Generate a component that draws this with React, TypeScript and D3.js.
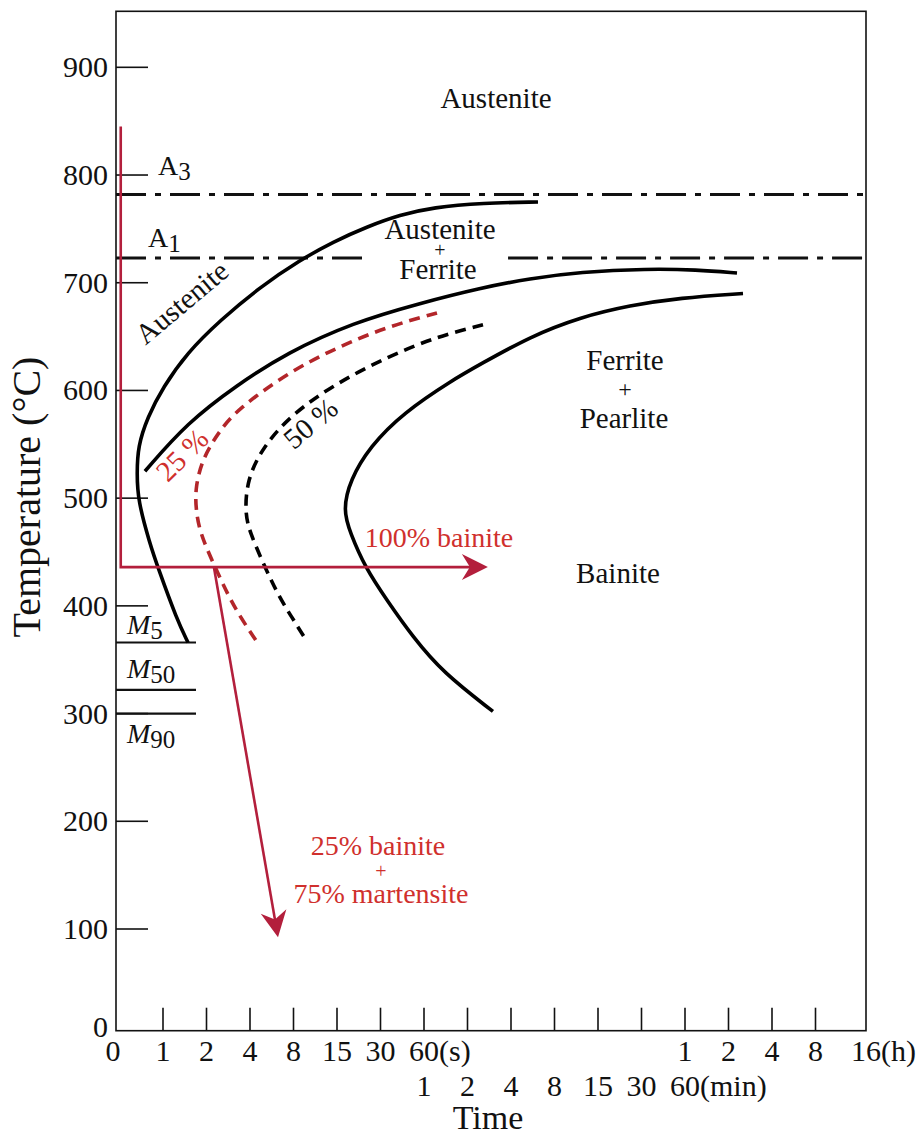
import { useEffect, useRef } from "react";
import * as d3 from "d3";

// temperature ticks (°C)
const tempTicks = [100, 200, 300, 400, 500, 600, 700, 800, 900];

// time ticks in seconds, drawn evenly spaced (schematic log axis)
const timeTicks = [1, 2, 4, 8, 15, 30, 60, 120, 240, 480, 900, 1800, 3600, 7200, 14400, 28800, 57600];
const timeLabelsTop = ["1", "2", "4", "8", "15", "30", "60(s)", "", "", "", "", "", "1", "2", "4", "8", "16(h)"];
const timeLabelsBottom = ["", "", "", "", "", "", "1", "2", "4", "8", "15", "30", "60(min)", "", "", "", ""];

// critical temperatures (°C)
const A3 = 782;
const A1 = 723;
const A1Gap = [25.4, 229]; // seconds, where the A1 line is broken by the label
const msLines = [
  { sub: "5", temp: 366 },
  { sub: "50", temp: 322 },
  { sub: "90", temp: 300 },
];

// curves as [time (s), temperature (°C)]
const ferriteStart = [
  [1.49, 366], [1.25, 387], [0.92, 436], [0.81, 458], [0.67, 498], [0.66, 523], [0.67, 548],
  [0.78, 575], [1, 603], [1.47, 635], [2.48, 665], [4.69, 696], [8.79, 721], [14.2, 738],
  [24.2, 752], [40.9, 763], [69.2, 770], [153.6, 774], [369, 775],
];
const transformStart = [
  [0.75, 525], [1.47, 570], [3.25, 605], [7.21, 635], [19.4, 663], [56.3, 681], [146, 695],
  [325, 704], [694, 710], [1964, 713], [4360, 712], [8245, 709],
];
const transformEnd = [
  [9072, 690], [3324, 686], [1499, 679], [694, 668], [325, 650], [146, 624], [95.3, 610],
  [42.9, 579], [25.4, 548], [18.5, 517], [16.5, 489], [18.5, 468], [23.4, 436], [33.3, 405],
  [50.3, 371], [81.2, 338], [180, 302],
];
const pct25 = [
  [73.8, 672], [33.3, 659], [15, 640], [7.21, 616], [3.25, 582], [2.48, 563], [1.89, 538],
  [1.67, 510], [1.69, 489], [1.8, 468], [2.22, 440], [2.77, 412], [3.41, 390], [4.4, 368],
];
const pct50 = [
  [153.6, 661], [73.8, 650], [33.3, 631], [15, 607], [7.94, 579], [4.92, 548], [3.81, 517],
  [3.69, 486], [4.0, 468], [4.92, 440], [6.15, 412], [7.57, 392], [9.44, 370],
];

// cooling paths
const quenchHold = [[0.51, 845], [0.51, 436], [166, 436]];
const quenchDrop = [[2.25, 436], [6.25, 92]];

const FONT = "'Liberation Serif', 'Times New Roman', serif";
const RED_LINE = "#b31f3c";
const RED_TEXT = "#d0302d";
const RED_DASH = "#b3262a";

const App = () => {
  const svgRef = useRef(null);

  useEffect(() => {
    document.body.style.margin = "0";
    const svg = d3.select(svgRef.current).attr("width", 918).attr("height", 1139);
    svg.selectAll("*").remove();
    svg.style("font-family", FONT);

    const left = 116;

    // evenly spaced ticks -> piecewise log scale
    const idx = d3.scaleLinear().domain([0, 15, 16]).range([163, 815.5, 866]);
    const x = d3.scaleLog().domain(timeTicks).range(timeTicks.map((_, i) => idx(i)));
    const y = d3.scaleLinear().domain([0, 100, 952]).range([1030.7, 929, 11.3]);

    const right = x(57600);
    const top = y(952);
    const bottom = y(0);

    const g = svg.append("g");

    // frame
    g.append("rect")
      .attr("x", left).attr("y", top)
      .attr("width", right - left).attr("height", bottom - top)
      .attr("fill", "none").attr("stroke", "#111").attr("stroke-width", 1.6);

    // y ticks + labels
    g.selectAll(".ytick").data(tempTicks).enter().append("line")
      .attr("x1", left).attr("x2", left + 32)
      .attr("y1", (d) => y(d)).attr("y2", (d) => y(d))
      .attr("stroke", "#111").attr("stroke-width", 1.6);
    g.selectAll(".ylab").data(tempTicks).enter().append("text")
      .attr("x", 108).attr("y", (d) => y(d) + 10)
      .attr("text-anchor", "end").attr("font-size", 30).attr("fill", "#111")
      .text((d) => d);
    g.append("text").attr("x", 108).attr("y", 1037)
      .attr("text-anchor", "end").attr("font-size", 30).attr("fill", "#111").text("0");

    // x ticks
    g.selectAll(".xtick").data(timeTicks.slice(0, -1)).enter().append("line")
      .attr("x1", (d) => x(d)).attr("x2", (d) => x(d))
      .attr("y1", bottom).attr("y2", bottom - 23)
      .attr("stroke", "#111").attr("stroke-width", 1.6);

    // number centred on the tick, unit hanging to the right
    const tickLabel = (label, px, py) => {
      if (!label) return;
      const m = label.match(/^(\d+)(.*)$/);
      const t = g.append("text").attr("x", px).attr("y", py)
        .attr("text-anchor", "middle").attr("font-size", 30).attr("fill", "#111").text(m[1]);
      if (m[2]) {
        const w = t.node().getComputedTextLength();
        g.append("text").attr("x", px + w / 2).attr("y", py)
          .attr("font-size", 30).attr("fill", "#111").text(m[2]);
      }
    };
    tickLabel("0", left - 3, 1060.7);
    timeTicks.forEach((d, i) => {
      tickLabel(timeLabelsTop[i], x(d), 1060.7);
      tickLabel(timeLabelsBottom[i], x(d), 1096);
    });

    // axis titles
    g.append("text").attr("x", 488).attr("y", 1129)
      .attr("text-anchor", "middle").attr("font-size", 34).attr("fill", "#111").text("Time");
    g.append("text")
      .attr("transform", `translate(40,497) rotate(-90)`)
      .attr("text-anchor", "middle").attr("font-size", 40).attr("fill", "#111")
      .text("Temperature (°C)");

    // A3 / A1 dash-dot lines
    const dashDot = "30,9,6,9";
    g.append("line").attr("x1", left).attr("x2", right).attr("y1", y(A3)).attr("y2", y(A3))
      .attr("stroke", "#111").attr("stroke-width", 3).attr("stroke-dasharray", dashDot);
    g.append("line").attr("x1", left).attr("x2", x(A1Gap[0])).attr("y1", y(A1)).attr("y2", y(A1))
      .attr("stroke", "#111").attr("stroke-width", 3).attr("stroke-dasharray", dashDot);
    g.append("line").attr("x1", x(A1Gap[1])).attr("x2", right).attr("y1", y(A1)).attr("y2", y(A1))
      .attr("stroke", "#111").attr("stroke-width", 3).attr("stroke-dasharray", dashDot);

    const sub = (base, s, px, py, italic) => {
      const t = g.append("text").attr("x", px).attr("y", py).attr("font-size", 28).attr("fill", "#111");
      t.append("tspan").attr("font-style", italic ? "italic" : "normal").text(base);
      t.append("tspan").attr("font-size", 25).attr("dy", 5).text(s);
    };
    sub("A", "3", 158, 175, false);
    sub("A", "1", 148, 247, false);

    // martensite lines
    msLines.forEach((m) => {
      g.append("line").attr("x1", left).attr("x2", 196).attr("y1", y(m.temp)).attr("y2", y(m.temp))
        .attr("stroke", "#111").attr("stroke-width", 2.2);
    });
    sub("M", "5", 127, 634, true);
    sub("M", "50", 127, 678, true);
    sub("M", "90", 127, 743, true);

    // transformation curves
    const line = d3.line()
      .x((d) => x(d[0]))
      .y((d) => y(d[1]))
      .curve(d3.curveBasis);

    [ferriteStart, transformStart, transformEnd].forEach((c) => {
      g.append("path").attr("d", line(c)).attr("fill", "none")
        .attr("stroke", "#000").attr("stroke-width", 3.6);
    });
    g.append("path").attr("d", line(pct25)).attr("fill", "none")
      .attr("stroke", RED_DASH).attr("stroke-width", 3.6).attr("stroke-dasharray", "11,7");
    g.append("path").attr("d", line(pct50)).attr("fill", "none")
      .attr("stroke", "#000").attr("stroke-width", 3.6).attr("stroke-dasharray", "11,7");

    // cooling paths
    const straight = d3.line().x((d) => x(d[0])).y((d) => y(d[1]));
    const arrowHead = (from, tip) => {
      const ang = Math.atan2(tip[1] - from[1], tip[0] - from[0]);
      const pts = [[0, 0], [-26, -13], [-18, 0], [-26, 13]].map(([a, b]) => [
        tip[0] + a * Math.cos(ang) - b * Math.sin(ang),
        tip[1] + a * Math.sin(ang) + b * Math.cos(ang),
      ]);
      g.append("path").attr("d", "M" + pts.join("L") + "Z").attr("fill", RED_LINE);
    };
    const hold = quenchHold.map((d) => [x(d[0]), y(d[1])]);
    const drop = quenchDrop.map((d) => [x(d[0]), y(d[1])]);
    g.append("path").attr("d", straight(quenchHold.slice(0, 2)) + "L" + (hold[2][0] - 15) + "," + hold[2][1])
      .attr("fill", "none").attr("stroke", RED_LINE).attr("stroke-width", 2.6);
    arrowHead(hold[1], hold[2]);
    const ang = Math.atan2(drop[1][1] - drop[0][1], drop[1][0] - drop[0][0]);
    g.append("line").attr("x1", drop[0][0]).attr("y1", drop[0][1])
      .attr("x2", drop[1][0] - 15 * Math.cos(ang)).attr("y2", drop[1][1] - 15 * Math.sin(ang))
      .attr("stroke", RED_LINE).attr("stroke-width", 2.6);
    arrowHead(drop[0], drop[1]);

    // region labels
    const label = (txt, px, py, opts = {}) => {
      g.append("text").attr("x", px).attr("y", py)
        .attr("text-anchor", "middle")
        .attr("font-size", opts.size || 29)
        .attr("fill", opts.color || "#111")
        .attr("transform", opts.rot ? `rotate(${opts.rot},${px},${py})` : null)
        .text(txt);
    };
    label("Austenite", 496, 108);
    label("Austenite", 440, 239);
    label("+", 440, 257, { size: 20 });
    label("Ferrite", 438, 279);
    label("Austenite", 188, 310, { rot: -40 });
    label("Ferrite", 625, 370);
    label("+", 625, 397, { size: 24 });
    label("Pearlite", 624, 428);
    label("Bainite", 618, 583);
    label("25 %", 189, 462, { rot: -45, size: 29, color: RED_TEXT });
    label("50 %", 317, 431, { rot: -40, size: 29 });
    label("100% bainite", 439, 547, { size: 28, color: RED_TEXT });
    label("25% bainite", 378, 855, { size: 28, color: RED_TEXT });
    label("+", 381, 878, { size: 20, color: RED_TEXT });
    label("75% martensite", 381, 903, { size: 28, color: RED_TEXT });
  }, []);

  return <svg ref={svgRef} style={{ display: "block" }}></svg>;
};

export default App;
